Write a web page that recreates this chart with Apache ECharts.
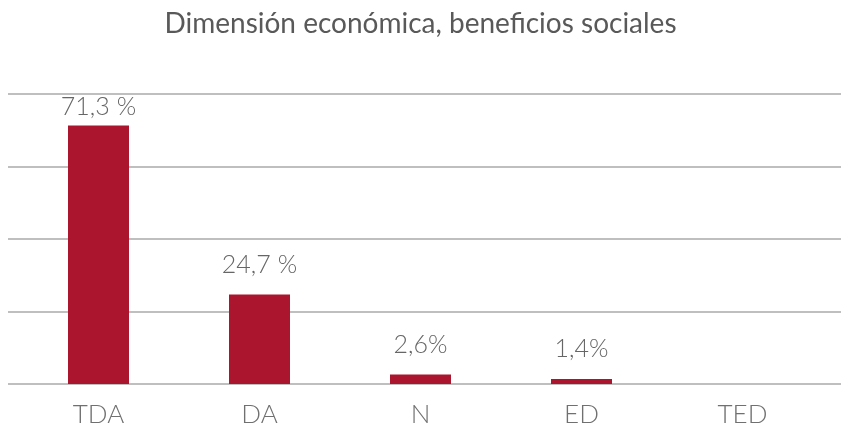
<!DOCTYPE html>
<html>
<head>
<meta charset="utf-8">
<script src="https://cdn.jsdelivr.net/npm/echarts@6/dist/echarts.min.js"></script>
<style>
html,body{margin:0;padding:0;background:#fff;}
#chart{width:841px;height:432px;}
</style>
</head>
<body>
<div id="chart"></div>
<script>
const titleText = 'Dimensión económica, beneficios sociales';
const categories = ['TDA', 'DA', 'N', 'ED', 'TED'];
const values = [71.3, 24.7, 2.6, 1.4, 0];
const valueLabels = ['71,3 %', '24,7 %', '2,6%', '1,4%', ''];
const yTicks = [0, 20, 40, 60, 80];

const chart = echarts.init(document.getElementById('chart'), null, {renderer: 'canvas'});
const font = 'Lato, "Open Sans", sans-serif';
chart.setOption({
  animation: false,
  backgroundColor: '#ffffff',
  title: {
    text: titleText,
    left: 'center',
    top: 5,
    textStyle: {fontFamily: font, fontSize: 28, fontWeight: 'normal', color: '#595959'}
  },
  grid: [
    {left: 8, right: 0, top: 94, bottom: 48, containLabel: false},
    {left: 18, right: 18, top: 94, bottom: 48, containLabel: false}
  ],
  xAxis: [
    {type: 'value', gridIndex: 0, show: false},
    {
      type: 'category', gridIndex: 1, data: categories,
      axisLine: {show: false}, axisTick: {show: false},
      axisLabel: {fontFamily: font, fontSize: 26, fontWeight: 300, color: '#707070', margin: 18}
    }
  ],
  yAxis: [
    {
      type: 'value', gridIndex: 0, min: yTicks[0], max: yTicks[yTicks.length - 1], interval: 20,
      axisLabel: {show: false}, axisLine: {show: false}, axisTick: {show: false},
      splitLine: {show: true, lineStyle: {color: '#bfbfbf', width: 2}}
    },
    {
      type: 'value', gridIndex: 1, min: yTicks[0], max: yTicks[yTicks.length - 1], interval: 20,
      show: false, splitLine: {show: false}
    }
  ],
  series: [{
    type: 'bar',
    xAxisIndex: 1, yAxisIndex: 1,
    barWidth: 61,
    data: values.map((v, i) => ({
      value: v,
      label: {distance: i === 0 ? 6 : 17}
    })),
    itemStyle: {color: '#ab162e'},
    label: {
      show: true, position: 'top',
      fontFamily: font, fontSize: 25, fontWeight: 300, color: '#666666',
      formatter: p => valueLabels[p.dataIndex]
    }
  }]
});
</script>
</body>
</html>
